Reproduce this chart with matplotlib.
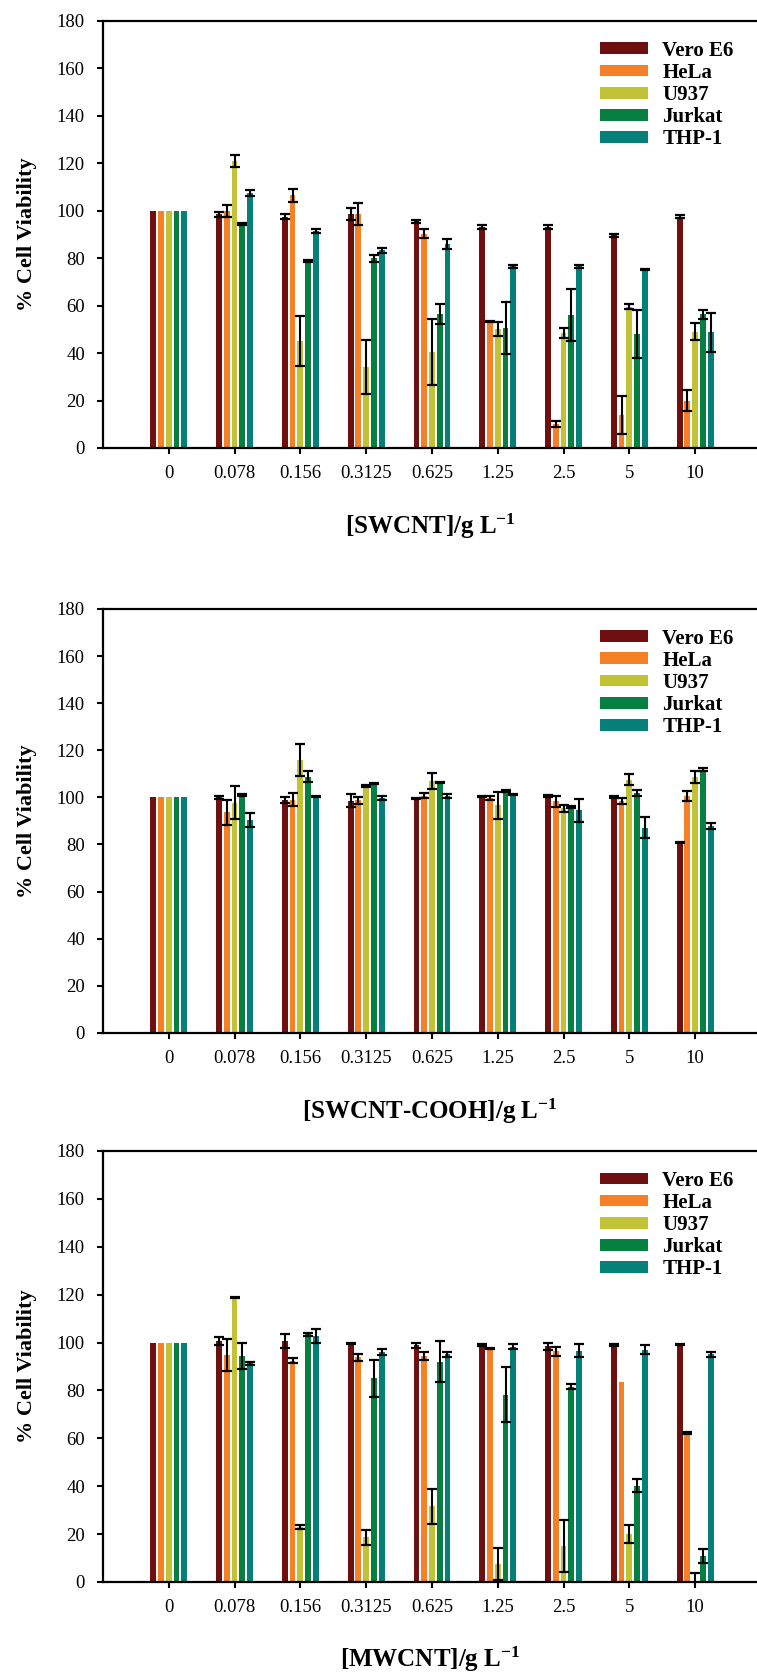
import numpy as np
import matplotlib.pyplot as plt

plt.rcParams['font.family'] = ['Liberation Serif', 'DejaVu Serif']
plt.rcParams['mathtext.fontset'] = 'custom'
plt.rcParams['mathtext.rm'] = 'Liberation Serif'
plt.rcParams['mathtext.bf'] = 'Liberation Serif:bold'
plt.rcParams['mathtext.default'] = 'bf'

conc = ['0', '0.078', '0.156', '0.3125', '0.625', '1.25', '2.5', '5', '10']
cell_lines = ['Vero E6', 'HeLa', 'U937', 'Jurkat', 'THP-1']
colors = ['#700F0F', '#F58025', '#C1C236', '#058040', '#058079']

# rows: Vero E6, HeLa, U937, Jurkat, THP-1
swcnt_mean = [
    [100, 98.5, 97.5, 98.6, 95.5, 93, 93, 89.6, 97.5],
    [100, 100, 106.5, 98.5, 90.4, 53.3, 10, 14, 20],
    [100, 121, 45, 34.3, 40.5, 50.2, 48.5, 59.5, 49],
    [100, 94.5, 78.8, 80, 56.5, 50.6, 56, 48, 56.3],
    [100, 107.4, 91.3, 83.3, 86, 76.5, 76.5, 75.2, 48.7],
]
swcnt_err = [
    [0, 1, 1, 2.5, 0.6, 0.8, 0.8, 0.7, 0.5],
    [0, 2.5, 2.7, 4.6, 1.8, 0.3, 1.2, 8, 4.3],
    [0, 2.5, 10.6, 11.4, 14, 2.9, 2, 1, 3.5],
    [0, 0.5, 0.3, 1.5, 4.2, 10.9, 11, 10.2, 2],
    [0, 1.2, 0.8, 1, 2, 0.5, 0.5, 0.3, 8.3],
]

cooh_mean = [
    [100, 100, 99, 98.6, 99.5, 100.5, 100.6, 100.2, 81],
    [100, 93.7, 99, 98.8, 100.8, 99.7, 98.3, 98.5, 100.5],
    [100, 97.7, 116, 104.8, 107, 96.7, 95.3, 107.5, 108.6],
    [100, 101, 108.7, 106, 106.4, 102.8, 96, 101.9, 111.8],
    [100, 90.3, 100.2, 99.7, 100.7, 101.2, 94.5, 87.2, 87.8],
]
cooh_err = [
    [0, 0.8, 1.2, 2.8, 0.2, 0.3, 0.6, 0.3, 0.2],
    [0, 5.3, 2.8, 1.4, 1, 1, 2.4, 1.3, 2.2],
    [0, 7, 6.8, 0.3, 3.3, 5.7, 1.6, 2.4, 2.5],
    [0, 0.3, 2.3, 0.3, 0.3, 0.4, 0.5, 1.2, 0.7],
    [0, 3, 0.2, 1, 0.8, 0.3, 5, 4.5, 1.2],
]

mwcnt_mean = [
    [100, 100.6, 100.6, 99.7, 98.9, 99, 98.5, 99, 99.2],
    [100, 94.7, 92.4, 93.9, 94.3, 97.5, 96.3, 83.6, 62.2],
    [100, 118.7, 23, 18.6, 31.7, 7.5, 15, 19.9, 0.3],
    [100, 94.3, 103.4, 85, 92, 78.2, 81.5, 40.2, 10.9],
    [100, 91.3, 102.7, 96, 95, 98.2, 96.5, 97, 95],
]
mwcnt_err = [
    [0, 1.6, 2.9, 0.3, 1, 0.3, 1.5, 0.4, 0.3],
    [0, 6.7, 1, 1.5, 1.8, 0.3, 1.8, 0, 0.5],
    [0, 0.3, 0.7, 3.3, 7.3, 6.8, 10.8, 3.8, 3.5],
    [0, 5.4, 0.6, 7.6, 8.6, 11.6, 1, 2.6, 2.8],
    [0, 0.5, 2.8, 1.2, 1, 1, 2.7, 2, 1],
]

xlabels = ['[SWCNT]/g L$^{-1}$', '[SWCNT-COOH]/g L$^{-1}$', '[MWCNT]/g L$^{-1}$']
panels = [(swcnt_mean, swcnt_err), (cooh_mean, cooh_err), (mwcnt_mean, mwcnt_err)]

fig = plt.figure(figsize=(7.57, 16.79), dpi=100)
boxes = [[0.136, 0.7332, 0.864, 0.2543],
         [0.136, 0.3848, 0.864, 0.2525],
         [0.136, 0.0578, 0.864, 0.2567]]
xpads = [22, 22, 21]

x = np.arange(len(conc))
step = 0.118
width = 0.088

for box, (means, errs), xl, xp in zip(boxes, panels, xlabels, xpads):
    ax = fig.add_axes(box)
    for i, name in enumerate(cell_lines):
        xs = x + (i - 2) * step
        m = np.array(means[i])
        e = np.array(errs[i])
        ax.bar(xs, m, width, color=colors[i], label=name, zorder=2)
        ok = e > 0
        ax.errorbar(xs[ok], m[ok], yerr=e[ok], fmt='none', ecolor='black',
                    elinewidth=1.5, capsize=3.6, capthick=1.6, zorder=3)
    ax.set_xlim(-1, 8.94)
    ax.set_ylim(0, 180)
    ax.set_yticks(range(0, 181, 20))
    ax.set_xticks(x)
    ax.set_xticklabels(conc)
    ax.spines['right'].set_visible(False)
    for s in ['left', 'bottom', 'top']:
        ax.spines[s].set_linewidth(1.6)
    ax.tick_params(axis='both', direction='out', length=4, width=1.5,
                   labelsize=13.5, pad=8)
    ax.tick_params(axis='y', pad=9)
    ax.set_ylabel('% Cell Viability', fontsize=16, fontweight='bold', labelpad=14)
    ax.set_xlabel(xl, fontsize=18, fontweight='bold', labelpad=xp)
    ax.legend(loc='upper left', bbox_to_anchor=(0.744, 0.978), frameon=False,
              borderpad=0, handlelength=2.3, handleheight=0.5, handletextpad=0.7,
              labelspacing=0.1, prop={'weight': 'bold', 'size': 15})

fig.savefig('out.png', dpi=100)
